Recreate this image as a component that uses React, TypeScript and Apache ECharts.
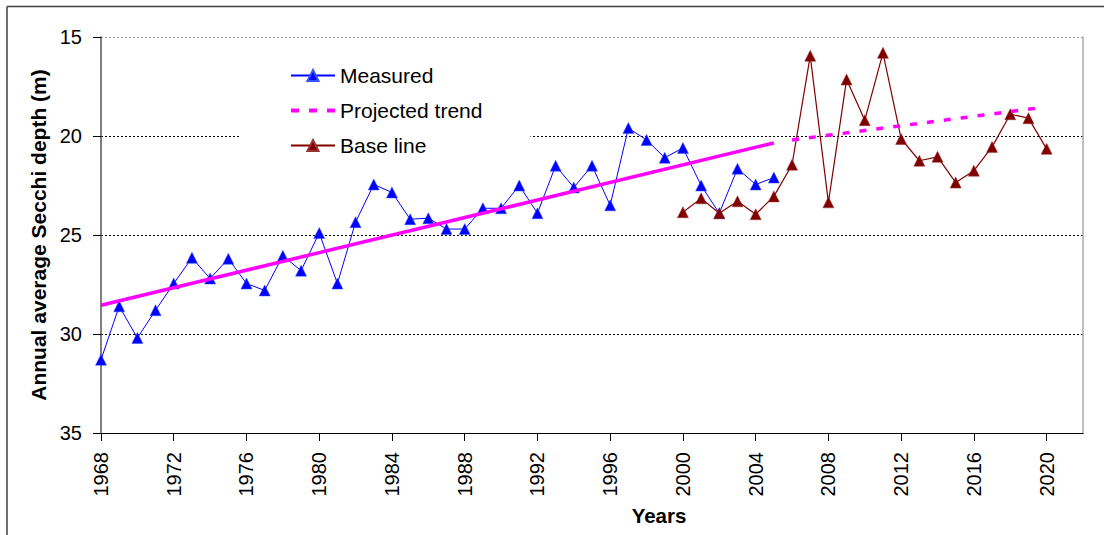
import React, { useEffect, useRef } from "react";
import * as echarts from "echarts";

const measuredYears = [1968, 1969, 1970, 1971, 1972, 1973, 1974, 1975, 1976, 1977, 1978, 1979, 1980, 1981, 1982, 1983, 1984, 1985, 1986, 1987, 1988, 1989, 1990, 1991, 1992, 1993, 1994, 1995, 1996, 1997, 1998, 1999, 2000, 2001, 2002, 2003, 2004, 2005];
const measuredValues = [31.3, 28.6, 30.2, 28.8, 27.45, 26.15, 27.2, 26.2, 27.45, 27.8, 26.05, 26.8, 24.9, 27.45, 24.35, 22.45, 22.85, 24.2, 24.15, 24.7, 24.7, 23.65, 23.65, 22.5, 23.9, 21.5, 22.6, 21.5, 23.5, 19.6, 20.2, 21.1, 20.6, 22.5, 23.9, 21.65, 22.45, 22.1];

const baseYears = [2000, 2001, 2002, 2003, 2004, 2005, 2006, 2007, 2008, 2009, 2010, 2011, 2012, 2013, 2014, 2015, 2016, 2017, 2018, 2019, 2020];
const baseValues = [23.85, 23.15, 23.9, 23.3, 23.95, 23.05, 21.45, 15.95, 23.35, 17.15, 19.2, 15.8, 20.15, 21.25, 21.05, 22.35, 21.75, 20.55, 18.9, 19.1, 20.65];

const trendYears = [1968, 2005];
const trendValues = [28.55, 20.35];

const projYears = [2006, 2019.4];
const projValues = [20.2, 18.6];

const xTicks = { min: 1968, max: 2022, interval: 4 };
const yTicks = { min: 15, max: 35, interval: 5 };

const FONT = "'Liberation Sans', Arial, sans-serif";

const zip = (xs: number[], ys: number[]) => xs.map((x, i) => [x, ys[i]]);

export default function App() {
  const ref = useRef<HTMLDivElement>(null);
  useEffect(() => {
    document.body.style.margin = "0";
    const chart = echarts.init(ref.current!, null, { renderer: "svg" });
    chart.setOption({
      animation: false,
      backgroundColor: "#fff",
      textStyle: { fontFamily: FONT },
      grid: { left: 101, top: 37, right: 21, bottom: 102, containLabel: false, outerBoundsMode: "none" },
      xAxis: {
        type: "value",
        min: xTicks.min,
        max: xTicks.max,
        interval: xTicks.interval,
        axisLine: { lineStyle: { color: "#000", width: 1 } },
        axisTick: { show: true, length: 8, lineStyle: { color: "#000" } },
        axisLabel: {
          rotate: 90,
          fontSize: 20,
          color: "#000",
          margin: 19,
          fontFamily: FONT,
          showMaxLabel: false,
          formatter: (v: number) => String(v),
        },
        splitLine: { show: false },
      },
      yAxis: [
        {
          type: "value",
          inverse: true,
          min: yTicks.min,
          max: yTicks.max,
          interval: yTicks.interval,
          name: "Annual average Secchi depth (m)",
          nameLocation: "middle",
          nameGap: 50,
          nameTextStyle: { fontSize: 21, fontWeight: "bold", color: "#000", fontFamily: FONT },
          axisLine: { show: true, lineStyle: { color: "#555", width: 1.5 } },
          axisTick: { show: true, length: 8, lineStyle: { color: "#000" } },
          axisLabel: { fontSize: 20, color: "#000", margin: 19, fontFamily: FONT },
          splitLine: { show: true, lineStyle: { color: ["#999", "#000", "#000", "#000", "#000"], type: [2, 2], width: 1 } },
        },
        {
          type: "value",
          inverse: true,
          min: yTicks.min,
          max: yTicks.max,
          interval: yTicks.interval,
          position: "right",
          axisLine: { show: true, lineStyle: { color: "#a8a8a8", width: 1.5 } },
          axisTick: { show: false },
          axisLabel: { show: false },
          splitLine: { show: false },
        },
      ],
      legend: {
        data: [
          { name: "Measured" },
          { name: "Projected trend", itemStyle: { opacity: 0 }, lineStyle: { width: 4, type: [8, 10] } },
          { name: "Base line" },
        ],
        orient: "vertical",
        left: 240,
        top: 55,
        padding: [10, 48, 10, 49],
        backgroundColor: "#fff",
        itemWidth: 44,
        itemHeight: 14,
        itemGap: 14,
        textStyle: { fontSize: 21, color: "#000", fontFamily: FONT, lineHeight: 21 },
      },
      graphic: [
        { type: "line", shape: { x1: 7, y1: 6.5, x2: 1104, y2: 6.5 }, style: { stroke: "#404040", lineWidth: 1.5 }, z: 100 },
        { type: "line", shape: { x1: 7, y1: 6.5, x2: 7, y2: 535 }, style: { stroke: "#404040", lineWidth: 1.5 }, z: 100 },
        {
          type: "text",
          x: 659,
          y: 515,
          style: { text: "Years", fontSize: 20.5, fontWeight: "bold", fill: "#000", font: `bold 20.5px ${FONT}`, align: "center", verticalAlign: "middle" },
        },
      ],
      series: [
        {
          name: "Measured",
          type: "line",
          data: zip(measuredYears, measuredValues),
          symbol: "triangle",
          symbolSize: 11,
          lineStyle: { color: "#0000ff", width: 1 },
          itemStyle: { color: "#0000ff", borderColor: "#3355ff", borderWidth: 0.5 },
          z: 3,
        },
        {
          name: "Trend",
          type: "line",
          data: zip(trendYears, trendValues),
          symbol: "none",
          lineStyle: { color: "#ff00ff", width: 3.5 },
          itemStyle: { color: "#ff00ff" },
          z: 4,
        },
        {
          name: "Projected trend",
          type: "line",
          data: zip(projYears, projValues),
          symbol: "none",
          lineStyle: { color: "#ff00ff", width: 3.5, type: [7, 10] },
          itemStyle: { color: "#ff00ff" },
          z: 4,
        },
        {
          name: "Base line",
          type: "line",
          data: zip(baseYears, baseValues),
          symbol: "triangle",
          symbolSize: 11,
          lineStyle: { color: "#800000", width: 1.2 },
          itemStyle: { color: "#800000", borderColor: "#993333", borderWidth: 0.5 },
          z: 3,
        },
      ],
    });
    return () => chart.dispose();
  }, []);
  return <div ref={ref} style={{ width: 1104, height: 535 }} />;
}
